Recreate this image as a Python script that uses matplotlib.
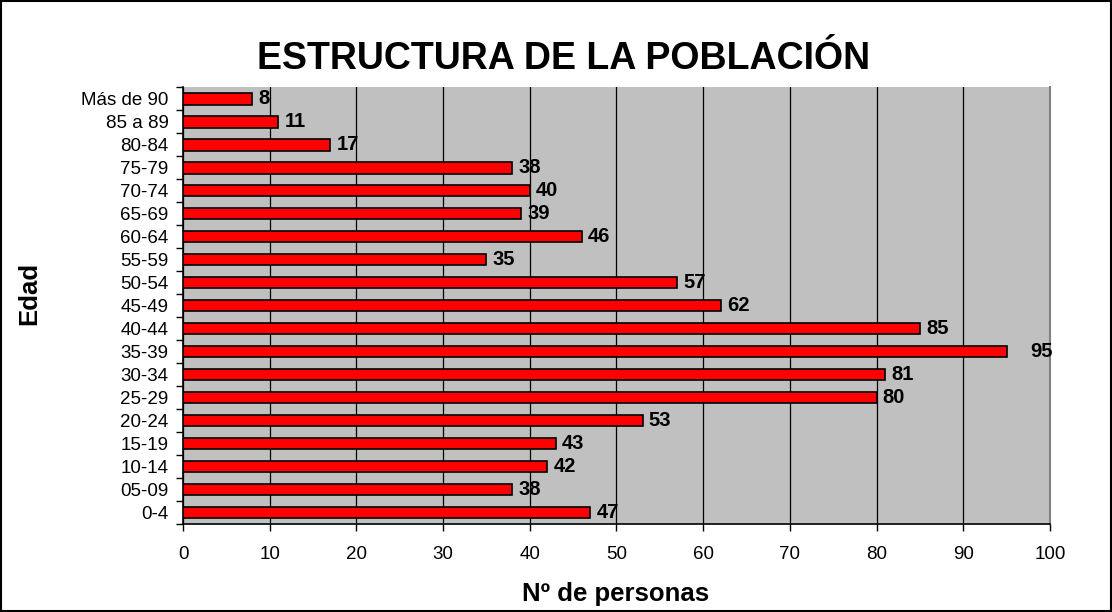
import matplotlib.pyplot as plt
import numpy as np
from matplotlib.patches import Rectangle

plt.rcParams['font.family'] = ['Liberation Sans', 'DejaVu Sans']

# data, bottom to top
edades = ['0-4', '05-09', '10-14', '15-19', '20-24', '25-29', '30-34', '35-39',
          '40-44', '45-49', '50-54', '55-59', '60-64', '65-69', '70-74', '75-79',
          '80-84', '85 a 89', 'Más de 90']
personas = [47, 38, 42, 43, 53, 80, 81, 95, 85, 62, 57, 35, 46, 39, 40, 38, 17, 11, 8]

fig = plt.figure(figsize=(11.12, 6.12), dpi=100)
ax = fig.add_axes([0.1646, 0.1438, 0.7796, 0.714])
ax.set_facecolor('#c0c0c0')

y = np.arange(len(edades))
ax.barh(y, personas, height=0.52, color='#ff0000', edgecolor='black', linewidth=1.2, zorder=3)

# value labels (the 95 one sits further right, as in the original)
for yi, v in zip(y, personas):
    if v == 95:
        ax.text(97.7, yi, str(v), va='center', ha='left', fontsize=14.5, fontweight='bold', zorder=4)
    else:
        ax.annotate(str(v), (v, yi), xytext=(4.5, 0), textcoords='offset points',
                    va='center', ha='left', fontsize=14.5, fontweight='bold', zorder=4)

ax.set_xlim(0, 100)
ax.set_ylim(-0.5, len(edades) - 0.5)
ax.set_xticks(np.arange(0, 101, 10))
ax.set_yticks(y)
ax.set_yticklabels(edades)
ax.set_yticks(np.arange(-0.5, len(edades), 1), minor=True)
ax.tick_params(axis='y', which='major', length=0, pad=10.5, labelsize=13.5)
ax.tick_params(axis='y', which='minor', length=5, width=1, direction='out')
ax.tick_params(axis='x', length=5, width=1, pad=11, labelsize=13.5)
ax.grid(axis='x', color='black', linewidth=0.9, zorder=1)

ax.spines['top'].set_visible(False)
ax.spines['right'].set_color('#808080')
ax.spines['right'].set_linewidth(1.5)
ax.spines['left'].set_linewidth(1.2)
ax.spines['bottom'].set_linewidth(1.2)

fig.text(0.554, 0.018, 'Nº de personas', ha='center', va='baseline',
         fontsize=18.5, fontweight='bold')
fig.text(0.026, 0.521, 'Edad', ha='center', va='center', rotation=90,
         fontsize=18.5, fontweight='bold')
fig.text(0.507, 0.887, 'ESTRUCTURA DE LA POBLACIÓN', ha='center', va='baseline',
         fontsize=27, fontweight='bold')

fig.patches.append(Rectangle((0.001, 0.001), 0.998, 0.998, transform=fig.transFigure,
                             fill=False, edgecolor='black', linewidth=1.5))

fig.savefig('out.png', dpi=100)
